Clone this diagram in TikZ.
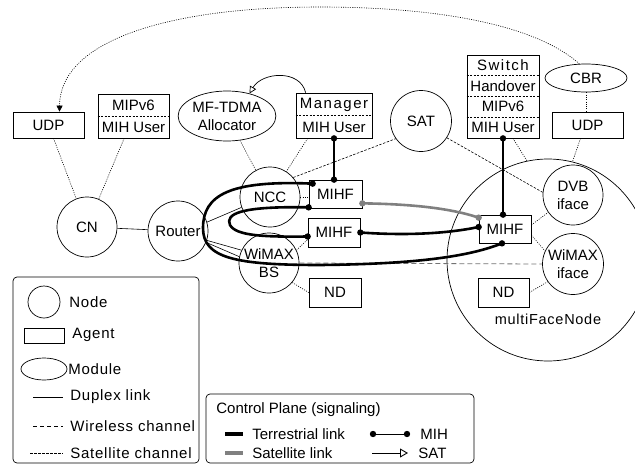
\documentclass[tikz,border=0pt]{standalone}
\usepackage{fontspec}
\setmainfont{Liberation Sans}
\newfontfamily\spaced[LetterSpace=10]{Liberation Sans}
\newfontfamily\spacedb[LetterSpace=5]{Liberation Sans}
\usetikzlibrary{shapes.geometric,arrows.meta,calc}
\begin{document}
\begin{tikzpicture}[x=1pt,y=-1pt,
  font=\fontsize{15}{18}\selectfont, line width=0.7pt,
  every node/.style={inner sep=0pt},
  nodec/.style={circle, draw, minimum size=60pt, align=center},
  agent/.style={draw, rectangle},
  module/.style={ellipse, draw, align=center},
  sep/.style={line width=0.6pt, dash pattern=on 2pt off 1.5pt},
  duplex/.style={line width=0.6pt},
  agentl/.style={line width=0.6pt, dash pattern=on 1pt off 1.3pt},
  satch/.style={line width=0.6pt, dash pattern=on 2.5pt off 1.5pt},
  wirel/.style={line width=0.8pt, dash pattern=on 5pt off 3pt},
  terr/.style={line width=2.6pt, black},
  satl/.style={line width=2.6pt, black!50},
  lbl/.style={anchor=west},
  lbla/.style={anchor=west, font=\fontsize{15}{18}\selectfont\spacedb}
]
\useasboundingbox (0,0) rectangle (635,466);

% multiFaceNode (behind)
\node[circle, draw, minimum size=202pt] (mfn) at (548,260) {};
\node[font=\fontsize{14.5}{17}\selectfont\spacedb] (mfnl) at (548,319) {multiFaceNode};

% circles
\node[nodec] (cn) at (87,227) {CN};
\node[nodec] (router) at (178,231) {Router};
\node[nodec] (ncc) at (270,197) {NCC};
\node[nodec] (wbs) at (269,263) {WiMAX\\BS};
\node[nodec, minimum size=61pt] (sat) at (421,121) {SAT};
\node[nodec] (dvb) at (573,195) {DVB\\iface};
\node[nodec, minimum size=61pt] (wif) at (573,264) {WiMAX\\iface};

% modules
\node[module, minimum width=86pt, minimum height=50pt] (mftdma) at (227,116) {MF-TDMA\\Allocator};
\node[module, minimum width=82pt, minimum height=28pt] (cbr) at (586,78) {CBR};

% agents
\node[agent, minimum width=71pt, minimum height=26pt] (udpL) at (48.5,125) {UDP};
\node[agent, minimum width=71pt, minimum height=26pt] (udpR) at (587.5,125) {UDP};

\node[agent, minimum width=71pt, minimum height=44pt] (mip) at (133.5,116) {};
\node (mipA) at (133.5,105.5) {MIPv6};
\node (mipB) at (133.5,127.5) {MIH User};
\draw[sep] (mip.west) -- (mip.east);

\node[agent, minimum width=76pt, minimum height=45pt] (mgr) at (334,115.5) {};
\node[font=\fontsize{15}{18}\selectfont\spaced] (mgrA) at (334,104.5) {Manager};
\node (mgrB) at (334,127) {MIH User};
\draw[sep] (mgr.west) -- (mgr.east);

\node[agent, minimum width=72pt, minimum height=83pt] (sw) at (503,96.5) {};
\node[font=\fontsize{15}{18}\selectfont\spaced] (swA) at (503,65.5) {Switch};
\node (swB) at (503,86) {Handover};
\node (swC) at (503,106.5) {MIPv6};
\node (swD) at (503,127.5) {MIH User};
\draw[sep] ($(sw.north west)!0.25!(sw.south west)$) -- ($(sw.north east)!0.25!(sw.south east)$);
\draw[sep] ($(sw.north west)!0.5!(sw.south west)$) -- ($(sw.north east)!0.5!(sw.south east)$);
\draw[sep] ($(sw.north west)!0.75!(sw.south west)$) -- ($(sw.north east)!0.75!(sw.south east)$);

\node[agent, minimum width=53pt, minimum height=28pt] (mihf1) at (335.5,194) {MIHF};
\node[agent, minimum width=52pt, minimum height=29pt] (mihf2) at (334,232.5) {MIHF};
\node[agent, minimum width=52pt, minimum height=29pt] (nd1) at (335,292.5) {ND};
\node[agent, minimum width=52pt, minimum height=28pt] (mihf3) at (505,229) {MIHF};
\node[agent, minimum width=51pt, minimum height=29pt] (nd2) at (503.5,292.5) {ND};

% agent attachments
\draw[agentl] (udpL) -- (cn);
\draw[agentl] (mip) -- (cn);
\draw[agentl] (mftdma) -- (ncc);
\draw[agentl] ([xshift=12pt]mgr.south west) -- (ncc);
\draw[agentl] (ncc.east) -- (ncc.east -| mihf1.west);
\draw[agentl] (wbs.25) -- ([yshift=-7pt]mihf2.west);
\draw[agentl] (wbs.-40) -- (nd1.west);
\draw[agentl] ([xshift=10pt]sw.south) -- (mfn.102);
\draw[agentl] ([xshift=-7pt]udpR.south) -- (mfn.76);
\draw[agentl] (cbr.south) -- (cbr.south |- udpR.north);
\draw[agentl] ([yshift=4pt]mihf3.east) -- (dvb.215);
\draw[agentl] ([yshift=-6pt]mihf3.east) -- (wif.155);
\draw[agentl] (nd2.east) -- (wif.215);

% links
\draw[duplex] (cn) -- (router);
\draw[duplex] (router.17) -- (ncc.200);
\draw[duplex] (router.-18) -- (wbs.155);
\draw[duplex] (router.-22) -- (wbs.168);
\draw[satch] (ncc.40) -- (sat.215);
\draw[satch] (sat.-33) -- (dvb.175);
\draw[wirel, draw=black!55] (wbs.east) -- (wif.west);

% CBR -> UDP dotted arc
\draw[agentl, -{Triangle[length=6pt,width=6pt]}] (cbr.115)
  .. controls (530,20) and (420,7) .. (320,7)
  .. controls (170,7) and (60,40) .. ([xshift=11pt]udpL.north);

% Manager -> MF-TDMA
\draw[line width=0.7pt, -{Triangle[open,length=7pt,width=7pt]}] ([xshift=10pt]mgr.north west)
  .. controls (300,69) and (262,72) .. (mftdma.45);

% signaling
\coordinate (s1) at (mgr.south);
\coordinate (s2) at (mgr.south |- mihf1.north);
\coordinate (s3) at (sw.south);
\coordinate (s4) at (sw.south |- mihf3.north);
\coordinate (g1) at ([yshift=5pt]mihf1.south east);
\coordinate (g2) at ([yshift=-3pt]mihf3.north west);
\coordinate (b1) at (mihf2.east);
\coordinate (b2) at ([yshift=2pt]mihf3.west);
\coordinate (l1) at ([xshift=4pt,yshift=-4pt]mihf1.north west);
\coordinate (l2) at ([xshift=-3pt]mihf3.south);
\coordinate (i1) at ([yshift=1pt]mihf1.south west);
\coordinate (i2) at ([yshift=-4pt]mihf2.west);

\draw[satl] (g1) .. controls (410,204) and (450,208) .. (g2);
\fill[black!50] (g1) circle (3.2pt) (g2) circle (3.2pt);
\draw[terr] (s1) -- (s2);
\draw[terr] (s3) -- (s4);
\draw[terr] (b1) .. controls (410,236) and (450,233) .. (b2);
\draw[terr] (l1) .. controls (230,180) and (203,195) .. (203,228)
  .. controls (203,258) and (235,265) .. (320,265)
  .. controls (420,264) and (470,256) .. (l2);
\draw[terr] (i1) .. controls (240,206) and (225,214) .. (230,225)
  .. controls (236,236) and (265,237) .. (i2);
\foreach \p in {s1,s2,s3,s4,b1,b2,l1,l2,i1,i2} \fill (\p) circle (3.2pt);

% legend 1
\draw[rounded corners=4pt, line width=0.7pt] (13,277) rectangle (199,463);
\node[circle, draw, minimum size=32pt] (lgc) at (44,302) {};
\node[lbla] (lgcT) at (69,302) {Node};
\node[agent, minimum width=40pt, minimum height=15pt] (lga) at (44,336) {};
\node[lbla] (lgaT) at (72,335) {Agent};
\node[ellipse, draw, minimum width=46pt, minimum height=22pt] (lgm) at (44,369) {};
\node[lbla] (lgmT) at (68,369) {Module};
\coordinate (ld1) at (33,397); \coordinate (ld2) at (63,397);
\draw[duplex] (ld1) -- (ld2);
\node[lbla] (lgdT) at (70,397) {Duplex link};
\coordinate (lw1) at (33,426); \coordinate (lw2) at (63,426);
\draw[line width=0.6pt, dash pattern=on 4pt off 3pt] (lw1) -- (lw2);
\node[lbla] (lgwT) at (70,426) {Wireless channel};
\coordinate (ls1) at (30,453); \coordinate (ls2) at (63,453);
\draw[satch] (ls1) -- (ls2);
\node[lbla] (lgsT) at (70,453) {Satellite channel};

% legend 2
\draw[rounded corners=4pt, line width=0.7pt] (206,394) rectangle (474,463);
\node[lbl] (cpT) at (216,410) {Control Plane (signaling)};
\coordinate (lt1) at (225,434); \coordinate (lt2) at (243,434);
\draw[line width=4.5pt, black] (lt1) -- (lt2);
\node[lbl] (ltT) at (252,434) {Terrestrial link};
\coordinate (lsl1) at (225,453); \coordinate (lsl2) at (243,453);
\draw[line width=4.5pt, black!50] (lsl1) -- (lsl2);
\node[lbl] (lslT) at (252,453) {Satellite link};
\coordinate (lm1) at (373,434); \coordinate (lm2) at (407,434);
\draw[line width=0.9pt] (lm1) -- (lm2);
\fill (lm1) circle (3.2pt) (lm2) circle (3.2pt);
\node[lbl] (lmT) at (420,434) {MIH};
\coordinate (la1) at (372,453); \coordinate (la2) at (408,453);
\draw[line width=0.9pt, -{Triangle[open,length=8pt,width=9pt]}] (la1) -- (la2);
\node[lbl] (laT) at (418,453) {SAT};
\end{tikzpicture}
\end{document}
